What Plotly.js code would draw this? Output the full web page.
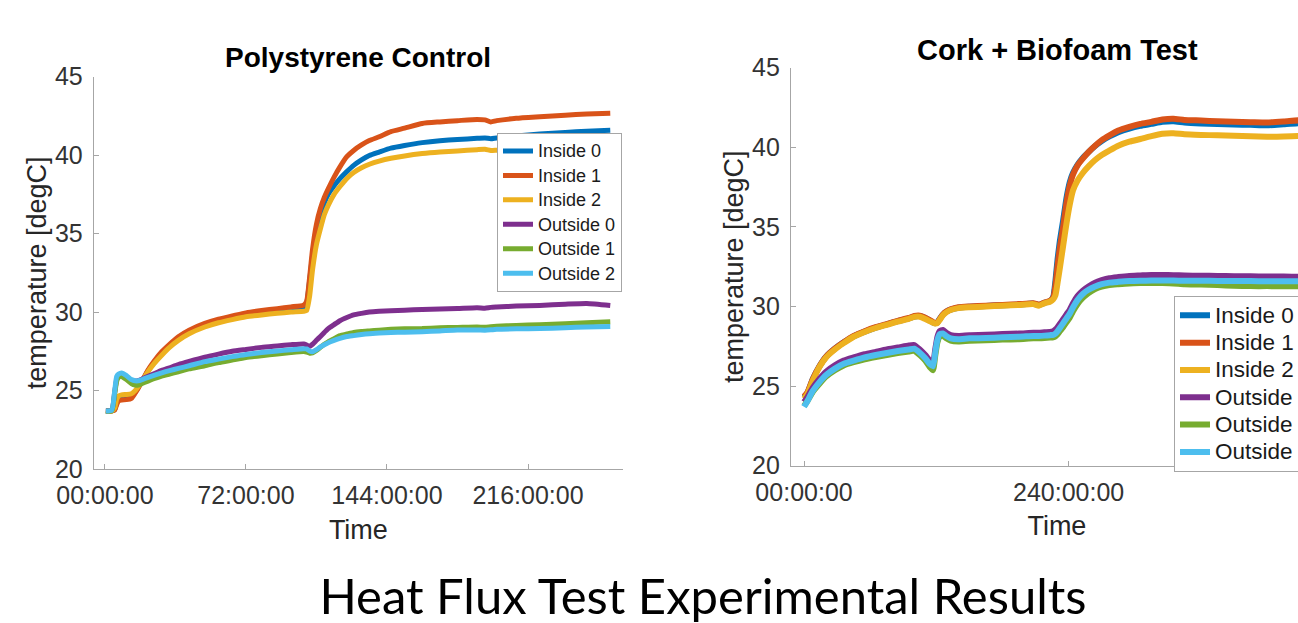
<!DOCTYPE html>
<html>
<head>
<meta charset="utf-8">
<script src="https://cdn.plot.ly/plotly-3.0.1.min.js"></script>
<style>
html,body{margin:0;padding:0;background:#fff;overflow:hidden;}
#wrap{width:1298px;height:623px;overflow:hidden;position:relative;}
#chart{width:1330px;height:623px;}
</style>
</head>
<body>
<div id="wrap"><div id="chart"></div></div>
<script>
// ---------- data ----------
const seriesNames = ['Inside 0','Inside 1','Inside 2','Outside 0','Outside 1','Outside 2'];
const seriesColors = ['#0072BD','#D95319','#EDB120','#7E2F8E','#77AC30','#4DBEEE'];

// Polystyrene Control (hours since start)
const timeL = [0.5,3.5,5,6,7,8.5,11,13.5,15.5,17,19,22,25,29,33,37.5,43,51,58,65,72,80,88,95,101.5,103,104.5,106,108,110,112,114,117,120,123.5,127,131,135,140,146,153,162,171,180,190,194,197,200,210,222,235,246,258];
const in0L = [23.7,23.7,23.8,24.25,24.5,24.55,24.58,24.65,24.9,25.2,25.6,26.25,26.78,27.38,27.85,28.3,28.72,29.15,29.42,29.62,29.82,29.96,30.06,30.15,30.22,30.55,32.0,33.6,35.1,36.1,36.95,37.5,38.05,38.5,38.95,39.35,39.7,39.98,40.2,40.45,40.62,40.8,40.92,41.0,41.07,41.1,41.05,41.1,41.22,41.35,41.45,41.52,41.58];
const in1L = [23.7,23.7,23.75,24.1,24.35,24.4,24.42,24.5,24.85,25.15,25.6,26.3,26.85,27.47,27.95,28.43,28.85,29.28,29.55,29.75,29.95,30.1,30.22,30.33,30.45,30.7,32.2,34.0,35.6,36.6,37.3,37.85,38.6,39.25,39.9,40.3,40.65,40.93,41.17,41.5,41.72,42.02,42.12,42.2,42.28,42.25,42.12,42.2,42.35,42.45,42.55,42.62,42.67];
const in2L = [23.7,23.7,23.9,24.45,24.65,24.72,24.75,24.8,25.0,25.25,25.6,26.2,26.7,27.25,27.75,28.2,28.62,29.05,29.32,29.52,29.7,29.82,29.92,30.0,30.05,30.1,31.0,32.7,34.3,35.3,36.2,36.8,37.5,38.0,38.52,38.9,39.2,39.42,39.62,39.8,39.95,40.1,40.2,40.27,40.35,40.37,40.3,40.32,40.4,40.45,40.5,40.55,40.6];
const out0L = [23.7,23.75,24.9,25.7,25.95,26.0,25.85,25.65,25.6,25.63,25.74,25.9,26.06,26.28,26.45,26.65,26.85,27.12,27.32,27.5,27.62,27.75,27.84,27.92,27.97,27.9,27.82,27.95,28.2,28.45,28.7,28.95,29.2,29.45,29.65,29.82,29.92,30.0,30.05,30.09,30.12,30.17,30.2,30.23,30.28,30.25,30.3,30.32,30.38,30.42,30.5,30.55,30.42];
const out1L = [23.7,23.7,24.8,25.6,25.85,25.9,25.7,25.45,25.35,25.35,25.45,25.6,25.75,25.92,26.05,26.2,26.38,26.58,26.78,26.94,27.1,27.22,27.33,27.42,27.48,27.45,27.38,27.4,27.55,27.75,27.95,28.1,28.3,28.5,28.6,28.7,28.76,28.8,28.85,28.9,28.93,28.95,29.0,29.02,29.05,29.03,29.07,29.1,29.15,29.2,29.25,29.32,29.38];
const out2L = [23.7,23.75,25.0,25.9,26.05,26.12,25.95,25.7,25.62,25.62,25.7,25.84,25.97,26.13,26.27,26.41,26.58,26.84,27.0,27.16,27.3,27.42,27.52,27.6,27.67,27.65,27.52,27.47,27.6,27.78,27.92,28.05,28.2,28.33,28.44,28.5,28.57,28.62,28.66,28.7,28.72,28.75,28.8,28.86,28.86,28.85,28.87,28.9,28.93,28.95,29.0,29.05,29.08];

// Cork + Biofoam Test (hours since start)
const timeR = [0,3,8,14,20,28,36,45,55,65,75,85,95,100,105,110,114,117,119,121,123,126,129,133,140,150,165,180,195,208,213,218,223,226,228,230,232,235,238,241,244,248,253,258,264,270,277,285,295,305,315,325,335,345,360,375,390,405,420,435,450,465,475];
const in0R = [24.3,24.55,25.45,26.25,26.85,27.35,27.75,28.12,28.42,28.67,28.88,29.08,29.25,29.37,29.4,29.28,29.12,29.0,28.95,29.0,29.22,29.5,29.67,29.8,29.92,29.98,30.03,30.08,30.12,30.18,30.1,30.23,30.33,30.6,31.6,33.0,34.1,35.4,36.8,37.8,38.4,38.9,39.35,39.7,40.08,40.4,40.68,40.95,41.18,41.35,41.47,41.6,41.64,41.56,41.5,41.46,41.43,41.41,41.38,41.45,41.52,41.55,41.55];
const in1R = [24.35,24.6,25.45,26.25,26.85,27.35,27.75,28.15,28.45,28.7,28.9,29.1,29.28,29.4,29.42,29.3,29.15,29.02,28.97,29.0,29.2,29.5,29.68,29.82,29.95,30.0,30.05,30.1,30.15,30.2,30.12,30.25,30.35,30.55,31.3,32.6,33.7,35.0,36.5,37.6,38.3,38.85,39.3,39.7,40.1,40.45,40.75,41.05,41.28,41.47,41.6,41.75,41.8,41.72,41.68,41.63,41.6,41.58,41.56,41.62,41.7,41.72,41.73];
const in2R = [24.2,24.5,25.35,26.2,26.8,27.3,27.7,28.1,28.4,28.65,28.85,29.05,29.22,29.35,29.36,29.22,29.08,28.98,28.93,28.96,29.15,29.45,29.63,29.78,29.9,29.95,30.0,30.05,30.1,30.15,30.05,30.2,30.3,30.45,30.7,31.5,32.4,33.8,35.2,36.4,37.3,37.9,38.4,38.8,39.2,39.52,39.8,40.1,40.35,40.52,40.7,40.85,40.88,40.82,40.78,40.75,40.72,40.7,40.67,40.68,40.72,40.73,40.74];
const out0R = [24.0,24.3,24.9,25.45,25.9,26.3,26.6,26.8,27.0,27.15,27.3,27.42,27.55,27.58,27.3,26.95,26.6,26.45,27.3,28.1,28.45,28.52,28.35,28.2,28.15,28.2,28.22,28.27,28.3,28.35,28.35,28.38,28.4,28.45,28.55,28.7,28.9,29.2,29.5,29.8,30.2,30.65,31.0,31.25,31.5,31.65,31.78,31.85,31.92,31.95,31.98,31.98,31.97,31.95,31.93,31.92,31.9,31.9,31.88,31.88,31.87,31.87,31.87];
const out1R = [23.75,24.05,24.65,25.15,25.6,26.0,26.3,26.5,26.68,26.82,26.95,27.07,27.17,27.22,26.95,26.6,26.2,26.0,26.9,27.75,28.1,28.15,28.0,27.85,27.8,27.85,27.88,27.92,27.95,28.0,28.0,28.02,28.05,28.07,28.12,28.25,28.45,28.7,29.0,29.3,29.7,30.15,30.55,30.85,31.1,31.25,31.35,31.4,31.45,31.47,31.48,31.47,31.45,31.4,31.38,31.35,31.3,31.28,31.28,31.27,31.27,31.3,31.3];
const out2R = [23.7,24.05,24.7,25.25,25.7,26.1,26.4,26.6,26.8,26.95,27.08,27.2,27.3,27.35,27.1,26.75,26.4,26.25,27.1,27.9,28.25,28.3,28.15,28.0,27.95,28.0,28.02,28.07,28.1,28.15,28.15,28.17,28.2,28.22,28.3,28.45,28.65,28.95,29.25,29.55,29.95,30.4,30.8,31.05,31.25,31.4,31.5,31.55,31.6,31.62,31.63,31.64,31.63,31.62,31.62,31.6,31.6,31.6,31.58,31.58,31.58,31.58,31.58];

const tickValsL = [0,72,144,216];
const tickTextL = ['00:00:00','72:00:00','144:00:00','216:00:00'];
const tickValsR = [0,240,480];
const tickTextR = ['00:00:00','240:00:00','480:00:00'];
const yTickVals = [20,25,30,35,40,45];

const titleL = 'Polystyrene Control';
const titleR = 'Cork + Biofoam Test';
const caption = 'Heat Flux Test Experimental Results';
const yTitle = 'temperature [degC]';
const xTitle = 'Time';

// ---------- figure ----------
const W = 1330, H = 623;
const FONT = 'Liberation Sans, Arial, sans-serif';
const ysL = [in0L,in1L,in2L,out0L,out1L,out2L];
const ysR = [in0R,in1R,in2R,out0R,out1R,out2R];

const traces = [];
ysL.forEach((y,i)=>traces.push({
  x: timeL, y: y, type:'scatter', mode:'lines',
  name: '<span style="font-size:18px">' + seriesNames[i] + '</span>',
  line:{color:seriesColors[i], width:5, shape:'spline', smoothing:0.5}, xaxis:'x', yaxis:'y', legend:'legend'
}));
ysR.forEach((y,i)=>traces.push({
  x: timeR, y: y, type:'scatter', mode:'lines',
  name: '<span style="font-size:22.5px">' + seriesNames[i] + '</span>',
  line:{color:seriesColors[i], width:6, shape:'spline', smoothing:0.5}, xaxis:'x2', yaxis:'y2', legend:'legend2'
}));

const axisCommon = {
  showgrid:false, zeroline:false, showline:true, linecolor:'#a6a6a6', linewidth:1,
  ticks:'inside', ticklen:5, tickwidth:1, tickcolor:'#a6a6a6',
  tickfont:{family:FONT, size:25, color:'#333333'}, automargin:false, mirror:false
};
const titleFont = {family:FONT, size:27, color:'#262626'};

const layout = {
  width: W, height: H,
  margin:{l:0,r:0,t:0,b:0, autoexpand:false},
  paper_bgcolor:'#ffffff', plot_bgcolor:'#ffffff',
  showlegend:true,
  title:{text:caption, xref:'container', yref:'container', x:703/W, xanchor:'center', y:1-597/H, yanchor:'middle',
         font:{family:'Lato, Carlito, sans-serif', size:49, color:'#000000'}},
  xaxis: Object.assign({}, axisCommon, {domain:[93.75/W, 623/W], range:[-5.7,264.5], anchor:'y',
         tickmode:'array', tickvals:tickValsL, ticktext:tickTextL, ticklabelstandoff:4,
         title:{text:xTitle, font:titleFont, standoff:12}}),
  yaxis: Object.assign({}, axisCommon, {domain:[1-469/H, 1-76.7/H], range:[20,45], anchor:'x',
         tickmode:'array', tickvals:yTickVals, ticklabelstandoff:5,
         title:{text:yTitle, font:titleFont, standoff:0}}),
  xaxis2: Object.assign({}, axisCommon, {domain:[790.8/W, 1323/W], range:[-12,470.7], anchor:'y2',
         tickmode:'array', tickvals:tickValsR, ticktext:tickTextR, ticklabelstandoff:4,
         title:{text:xTitle, font:titleFont, standoff:11}}),
  yaxis2: Object.assign({}, axisCommon, {domain:[1-465.7/H, 1-67.7/H], range:[20,45], anchor:'x2',
         tickmode:'array', tickvals:yTickVals, ticklabelstandoff:5,
         title:{text:yTitle, font:titleFont, standoff:0}}),
  legend:{x:497/W, y:1-132.7/H, xanchor:'left', yanchor:'top', bgcolor:'#ffffff',
          bordercolor:'#a6a6a6', borderwidth:1, font:{family:FONT, size:16.5, color:'#1a1a1a'},
          tracegroupgap:0, itemwidth:30},
  legend2:{x:1174/W, y:1-295.7/H, xanchor:'left', yanchor:'top', bgcolor:'#ffffff',
          bordercolor:'#a6a6a6', borderwidth:1, font:{family:FONT, size:18.7, color:'#1a1a1a'},
          tracegroupgap:0, itemwidth:30},
  annotations:[
    {text:'<b>'+titleL+'</b>', xref:'paper', yref:'paper', x:358/W, y:1-58/H, xanchor:'center', yanchor:'middle',
     showarrow:false, font:{family:FONT, size:28, color:'#000000'}},
    {text:'<b>'+titleR+'</b>', xref:'paper', yref:'paper', x:1057.7/W, y:1-50/H, xanchor:'center', yanchor:'middle',
     showarrow:false, font:{family:FONT, size:29, color:'#000000'}}
  ]
};

Plotly.newPlot('chart', traces, layout, {staticPlot:true, displayModeBar:false});
</script>
</body>
</html>
